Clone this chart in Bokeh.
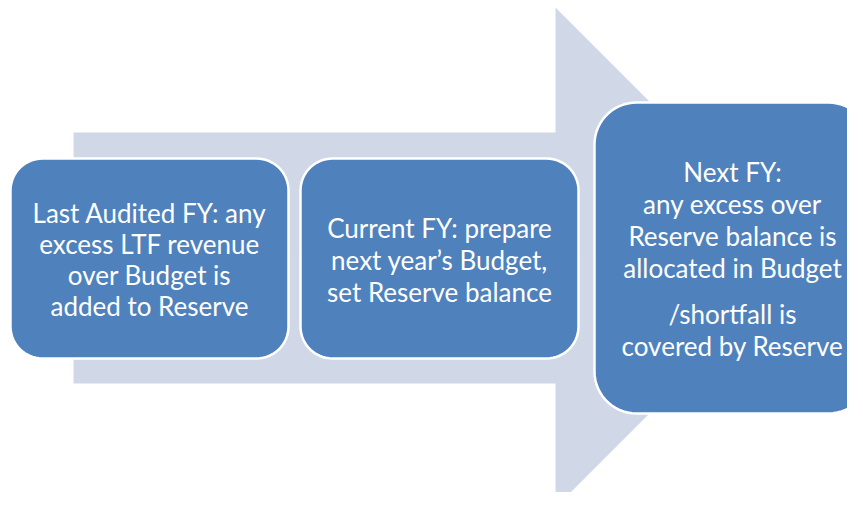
import numpy as np
from bokeh.plotting import figure
from bokeh.models import Range1d
from bokeh.core.properties import value
from bokeh.embed import file_html
from bokeh.resources import INLINE

# Background arrow outline (reference pixel space, y downward)
arrow_x = [73, 555, 555, 805, 555, 555, 73]
arrow_y = [132, 132, 7, 257, 507, 383, 383]

# Stage boxes: left, right, top, bottom, corner radius
box_left = [10, 300, 594]
box_right = [288, 578, 870]
box_top = [158, 158, 102]
box_bottom = [358, 358, 413]
box_radius = [32, 32, 42]
text_center_x = [149, 439, 732]

# Text blocks: paragraphs of lines per box
box_text = [
    [["Last Audited FY: any", "excess LTF revenue", "over Budget is", "added to Reserve"]],
    [["Current FY: prepare", "next year\u2019s Budget,", "set Reserve balance"]],
    [["Next FY:", "any excess over", "Reserve balance is", "allocated in Budget"],
     ["/shortfall is", "covered by Reserve"]],
]
line_gap = [31, 32, 32]
para_gap = 14

BOX_FILL = "#4F81BD"
ARROW_FILL = "#D0D8E8"

p = figure(width=847, height=492, output_backend="svg", toolbar_location=None,
           x_range=Range1d(0, 847), y_range=Range1d(492, 0), min_border=0)
p.axis.visible = False
p.grid.visible = False
p.outline_line_color = None
p.background_fill_color = "white"
p.border_fill_color = "white"

p.patch(arrow_x, arrow_y, fill_color=ARROW_FILL, line_color=None)


def rounded(l, r, t, b, rad, n=16):
    xs, ys = [], []
    corners = [(r - rad, t + rad, -np.pi / 2, 0),
               (r - rad, b - rad, 0, np.pi / 2),
               (l + rad, b - rad, np.pi / 2, np.pi),
               (l + rad, t + rad, np.pi, 1.5 * np.pi)]
    for cx, cy, a0, a1 in corners:
        a = np.linspace(a0, a1, n)
        xs.extend(cx + rad * np.cos(a))
        ys.extend(cy + rad * np.sin(a))
    return xs, ys


bx, by = [], []
for l, r, t, b, rad in zip(box_left, box_right, box_top, box_bottom, box_radius):
    xs, ys = rounded(l, r, t, b, rad)
    bx.append(xs)
    by.append(ys)
p.patches(bx, by, fill_color=BOX_FILL, line_color="white", line_width=2.5)

tx, ty, tt = [], [], []
for i, paras in enumerate(box_text):
    cx = text_center_x[i]
    cy = (box_top[i] + box_bottom[i]) / 2 + 1
    nlines = sum(len(pp) for pp in paras)
    total = (nlines - 1) * line_gap[i] + (len(paras) - 1) * para_gap
    y = cy - total / 2
    for j, pp in enumerate(paras):
        if j > 0:
            y += para_gap
        for line in pp:
            tx.append(cx)
            ty.append(y)
            tt.append(line)
            y += line_gap[i]

p.text(tx, ty, text=tt, text_color="white", text_font=value("Lato"),
       text_font_size="26px", text_align="center", text_baseline="middle")

open("out.html", "w").write(file_html(p, INLINE))
